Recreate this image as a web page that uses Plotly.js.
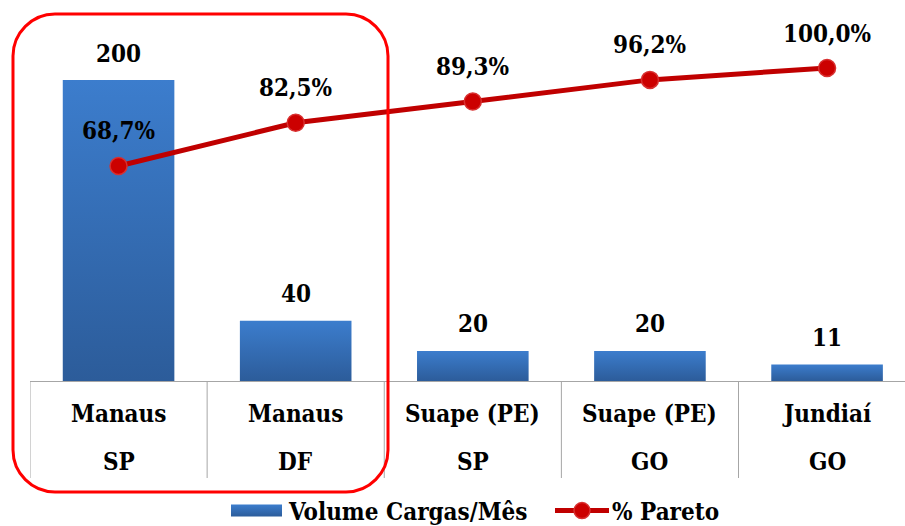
<!DOCTYPE html>
<html>
<head>
<meta charset="utf-8">
<script src="https://cdn.plot.ly/plotly-3.0.1.min.js"></script>
<style>html,body{margin:0;padding:0;background:#fff;}#chart{width:905px;height:526px;}</style>
</head>
<body>
<div id="chart"></div>
<script>
// ---- data ----
const placeNames = ['Manaus', 'Manaus', 'Suape (PE)', 'Suape (PE)', 'Jundiaí'];
const stateNames = ['SP', 'DF', 'SP', 'GO', 'GO'];
const volume = [200, 40, 20, 20, 11];
const pareto = [68.7, 82.5, 89.3, 96.2, 100.0];
const volumeLabels = ['200', '40', '20', '20', '11'];
const paretoLabels = ['68,7%', '82,5%', '89,3%', '96,2%', '100,0%'];
const seriesNames = ['Volume Cargas/Mês', '% Pareto'];

// ---- layout helpers ----
const W = 905, H = 526;
const M = {l: 30, r: 0, t: 10, b: 145};
const plotW = W - M.l - M.r, plotH = H - M.t - M.b;
const baseY = M.t + plotH;
const px2x = p => (p - M.l) / plotW;
const px2y = p => (baseY - p) / plotH;

const cats = placeNames.map((p, i) => p + ' / ' + stateNames[i]);
const FONT = {family: "'DejaVu Serif Condensed', 'DejaVu Serif'", size: 24, color: '#000', weight: 'bold'};

const traces = [
  {
    type: 'bar', name: seriesNames[0], x: cats, y: volume, yaxis: 'y',
    width: 0.63,
    marker: {color: '#3570bd', line: {width: 0}},
    hoverinfo: 'x+y'
  },
  {
    type: 'scatter', mode: 'lines+markers', name: seriesNames[1], x: cats, y: pareto, yaxis: 'y2',
    line: {color: '#c00000', width: 5},
    marker: {color: '#cc0000', size: 17, line: {color: '#d83030', width: 1.5}},
    cliponaxis: false
  }
];

const annotations = [];
cats.forEach((c, i) => {
  annotations.push({x: c, y: volume[i], xref: 'x', yref: 'y', text: volumeLabels[i], showarrow: false,
    yshift: 27, yanchor: 'middle', font: FONT});
  annotations.push({x: c, y: pareto[i], xref: 'x', yref: 'y2', text: paretoLabels[i], showarrow: false,
    yshift: 35, yanchor: 'middle', font: FONT});
  annotations.push({x: c, y: px2y(414), xref: 'x', yref: 'paper', text: placeNames[i], showarrow: false,
    yanchor: 'middle', font: FONT});
  annotations.push({x: c, y: px2y(462), xref: 'x', yref: 'paper', text: stateNames[i], showarrow: false,
    yanchor: 'middle', font: FONT});
});

const shapes = [];
// table separators
for (let k = 0; k < cats.length; k++) {
  shapes.push({type: 'line', xref: 'x', yref: 'paper', x0: k - 0.5, x1: k - 0.5, y0: 0, y1: px2y(478),
    line: {color: '#a6a6a6', width: 1}});
}
// rounded highlight box (pixel geometry -> paper coords)
function roundRect(x0, y0, x1, y1, r) {
  const k = 0.45 * r;
  const P = (x, y) => px2x(x).toFixed(5) + ',' + px2y(y).toFixed(5);
  return 'M' + P(x0 + r, y0) + ' L' + P(x1 - r, y0) +
    ' C' + P(x1 - k, y0) + ' ' + P(x1, y0 + k) + ' ' + P(x1, y0 + r) +
    ' L' + P(x1, y1 - r) +
    ' C' + P(x1, y1 - k) + ' ' + P(x1 - k, y1) + ' ' + P(x1 - r, y1) +
    ' L' + P(x0 + r, y1) +
    ' C' + P(x0 + k, y1) + ' ' + P(x0, y1 - k) + ' ' + P(x0, y1 - r) +
    ' L' + P(x0, y0 + r) +
    ' C' + P(x0, y0 + k) + ' ' + P(x0 + k, y0) + ' ' + P(x0 + r, y0) + ' Z';
}
shapes.push({type: 'path', xref: 'paper', yref: 'paper', path: roundRect(13, 14, 388, 492, 42),
  line: {color: '#ff0000', width: 3}, fillcolor: 'rgba(0,0,0,0)'});

const layout = {
  width: W, height: H,
  margin: M,
  paper_bgcolor: '#fff', plot_bgcolor: '#fff',
  font: FONT,
  showlegend: true,
  legend: {orientation: 'h', xref: 'container', yref: 'container', x: 249 / W, xanchor: 'left',
    y: 1 - 511 / H, yanchor: 'middle', font: FONT, bgcolor: 'rgba(0,0,0,0)', itemwidth: 30,
    entrywidth: 278},
  bargap: 0.37,
  xaxis: {type: 'category', range: [-0.5, 4.44], showticklabels: false, ticks: '', showgrid: false,
    zeroline: false, showline: true, linecolor: '#a6a6a6', linewidth: 1, fixedrange: true},
  yaxis: {range: [0, plotH / 1.505], visible: false, showgrid: false, zeroline: false, fixedrange: true},
  yaxis2: {range: [0, plotH / 3.13], overlaying: 'y', side: 'right', visible: false, showgrid: false,
    zeroline: false, fixedrange: true},
  annotations: annotations,
  shapes: shapes
};

Plotly.newPlot('chart', traces, layout, {displayModeBar: false, staticPlot: true}).then(gd => {
  const svg = gd.querySelector('.main-svg');
  let defs = svg.querySelector('defs');
  const NS = 'http://www.w3.org/2000/svg';
  const grad = document.createElementNS(NS, 'linearGradient');
  grad.setAttribute('id', 'barGrad');
  grad.setAttribute('x1', '0'); grad.setAttribute('y1', '0');
  grad.setAttribute('x2', '0'); grad.setAttribute('y2', '1');
  [['0', '#3c7dcd'], ['1', '#2c5c9a']].forEach(([o, c]) => {
    const s = document.createElementNS(NS, 'stop');
    s.setAttribute('offset', o); s.setAttribute('stop-color', c);
    grad.appendChild(s);
  });
  defs.appendChild(grad);
  gd.querySelectorAll('.barlayer .point path').forEach(p => { p.style.fill = 'url(#barGrad)'; });
  // let the widened legend keys draw outside the legend's clip box
  gd.querySelectorAll('.legend [clip-path]').forEach(e => e.removeAttribute('clip-path'));
  const items = gd.querySelectorAll('.legend .traces');
  if (items[0]) {
    items[0].querySelectorAll('.legendpoints path').forEach(p => {
      p.setAttribute('d', 'M13,6H-38V-6H13Z');
      p.style.fill = 'url(#barGrad)';
    });
  }
  if (items[1]) {
    items[1].querySelectorAll('.legendlines path').forEach(p => p.setAttribute('d', 'M-17,0h54'));
    items[1].querySelectorAll('.legendsymbols path').forEach(p => p.setAttribute('transform', 'translate(10,0)'));
  }
});
</script>
</body>
</html>
